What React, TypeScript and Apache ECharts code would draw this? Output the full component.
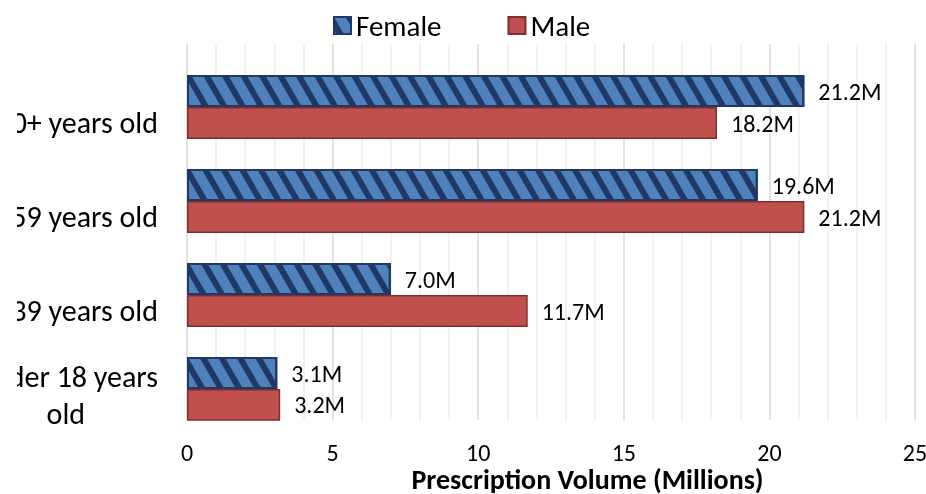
import React, { useEffect, useRef } from "react";
import * as echarts from "echarts";

const categories = ["60+ years old", "40-59 years old", "18-39 years old", "Under 18 years old"];
const femaleValues = [21.2, 19.6, 7.0, 3.1];
const maleValues = [18.2, 21.2, 11.7, 3.2];
const spacerValues = [0, 0, 0, 0];
const xTicks = [0, 5, 10, 15, 20, 25];

const FONT = "Carlito, Calibri, Lato, sans-serif";

export default function App() {
  const ref = useRef<HTMLDivElement>(null);
  useEffect(() => {
    if (!ref.current) return;
    const chart = echarts.init(ref.current, undefined, { renderer: "svg" });
    const labelFmt = (p: any) => Number(p.value).toFixed(1) + "M";
    chart.setOption({
      animation: false,
      textStyle: { fontFamily: FONT },
      legend: {
        data: ["Female", "Male"],
        icon: "rect",
        left: 328,
        top: 6,
        itemWidth: 17,
        itemHeight: 17,
        itemGap: 66,
        textStyle: { fontSize: 29, color: "#000", fontFamily: FONT },
      },
      grid: { left: 187, right: 11, top: 44, height: 376, containLabel: false, outerBoundsMode: "none" },
      xAxis: {
        type: "value",
        min: xTicks[0],
        max: xTicks[xTicks.length - 1],
        interval: 5,
        axisLine: { show: false },
        axisTick: { show: false },
        axisLabel: { fontSize: 24, lineHeight: 22, color: "#000", margin: 21, fontFamily: FONT },
        splitLine: { show: true, lineStyle: { color: "#D9D9D9", width: 1.5 } },
        minorTick: { show: false, splitNumber: 5 },
        minorSplitLine: { show: true, lineStyle: { color: "#EEEEEE", width: 1.5 } },
        name: "Prescription Volume (Millions)",
        nameLocation: "middle",
        nameGap: 46,
        nameMoveOverlap: false,
        nameTextStyle: {
          fontSize: 28,
          lineHeight: 26,
          fontWeight: "bold",
          color: "#000",
          padding: [0, 0, 0, 73],
          fontFamily: FONT,
        },
      },
      yAxis: {
        type: "category",
        inverse: true,
        data: categories,
        axisLine: { show: false },
        axisTick: { show: false },
        axisLabel: {
          fontSize: 30,
          color: "#000",
          margin: 29,
          fontFamily: FONT,
          padding: [62, 0, 0, 0],
          formatter: (v: string) => (v === "Under 18 years old" ? "{a|Under 18 years}\n{b|old}" : v),
          rich: {
            a: { align: "center", fontSize: 30, fontFamily: FONT, color: "#000", lineHeight: 19 },
            b: { align: "center", fontSize: 30, fontFamily: FONT, color: "#000", lineHeight: 55 },
          },
        },
      },
      series: [
        {
          name: "spacer",
          type: "bar",
          data: spacerValues,
          barWidth: 32,
          barGap: "0%",
          silent: true,
          itemStyle: { color: "rgba(0,0,0,0)" },
        },
        {
          name: "Female",
          type: "bar",
          data: femaleValues,
          barWidth: 32,
          barGap: "0%",
          itemStyle: {
            color: "#4F81BD",
            borderColor: "#1F3864",
            borderWidth: 2,
            decal: {
              symbol: "rect",
              symbolSize: 1,
              dashArrayX: [1, 0],
              dashArrayY: [5.5, 9.5],
              rotation: Math.PI / 3,
              color: "#1F3864",
            },
          },
          label: { show: true, position: "right", distance: 14, fontSize: 24, color: "#000", fontFamily: FONT, formatter: labelFmt },
        },
        {
          name: "Male",
          type: "bar",
          data: maleValues,
          barWidth: 32,
          barGap: "0%",
          itemStyle: { color: "#C0504D", borderColor: "#7E2F2D", borderWidth: 1.5 },
          label: { show: true, position: "right", distance: 14, fontSize: 24, color: "#000", fontFamily: FONT, formatter: labelFmt },
        },
      ],
    });
    return () => chart.dispose();
  }, []);
  return (
    <div
      ref={ref}
      style={{ position: "fixed", left: 0, top: 0, width: 926, height: 494, clipPath: "inset(0 0 0 17px)" }}
    />
  );
}
